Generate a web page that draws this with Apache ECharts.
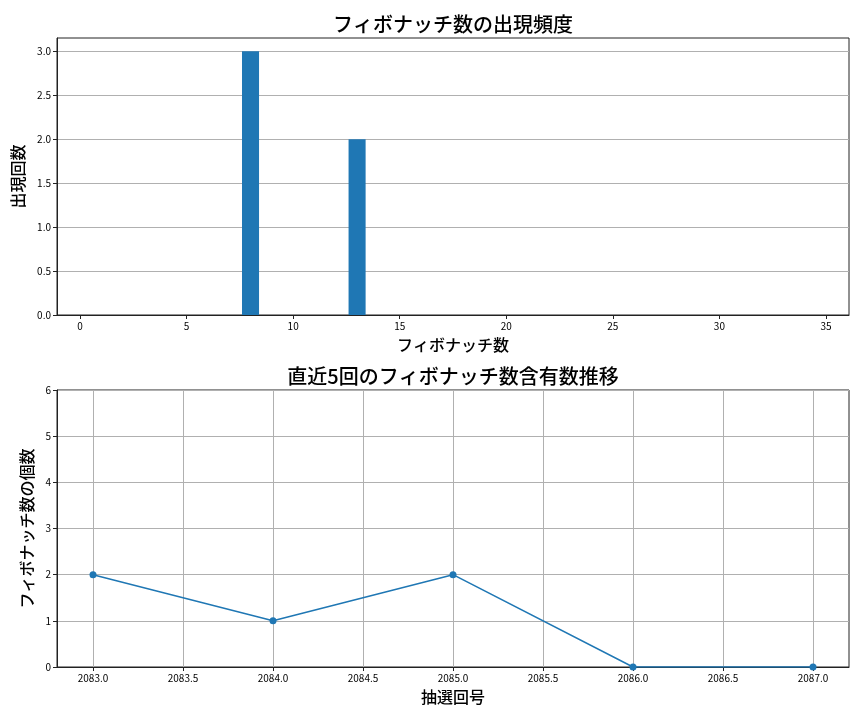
<!DOCTYPE html>
<html><head><meta charset="utf-8">
<script src="https://cdn.jsdelivr.net/npm/echarts@6/dist/echarts.min.js"></script>
<style>html,body{margin:0;padding:0;background:#fff}#c{width:864px;height:720px}</style>
</head><body><div id="c"></div>
<script>
// Top chart: histogram of Fibonacci numbers
const fibNumbers = [8, 13];
const fibCounts = [3, 2];
const barWidthUnits = 0.8;
const topXTicks = [0, 5, 10, 15, 20, 25, 30, 35];
const topYTicks = [0.0, 0.5, 1.0, 1.5, 2.0, 2.5, 3.0];
// Bottom chart: recent 5 draws
const drawNumbers = [2083, 2084, 2085, 2086, 2087];
const fibContainCounts = [2, 1, 2, 0, 0];
const bottomXTicks = [2083.0, 2083.5, 2084.0, 2084.5, 2085.0, 2085.5, 2086.0, 2086.5, 2087.0];
const bottomYTicks = [0, 1, 2, 3, 4, 5, 6];

const FONT = '"Noto Sans CJK JP", "Noto Sans", sans-serif';
const BLUE = '#1f77b4';
const chart = echarts.init(document.getElementById('c'));

const labelStyle = {color: '#000', fontSize: 10, fontFamily: FONT};
const nameStyle = {color: '#000', fontSize: 16, fontWeight: 500, fontFamily: FONT};

chart.setOption({
  animation: false,
  title: [
    {text: 'フィボナッチ数の出現頻度', left: 448, top: 9, textAlign: 'center',
     textStyle: {fontSize: 20, fontWeight: 500, color: '#000', fontFamily: FONT}},
    {text: '直近5回のフィボナッチ数含有数推移', left: 448, top: 361, textAlign: 'center',
     textStyle: {fontSize: 20, fontWeight: 500, color: '#000', fontFamily: FONT}}
  ],
  grid: [
    {left: 57, right: 15, top: 38, height: 277, show: true, borderColor: '#222', borderWidth: 1, containLabel: false},
    {left: 57, right: 15, top: 390, height: 277, show: true, borderColor: '#222', borderWidth: 1, containLabel: false}
  ],
  xAxis: [
    {type: 'value', gridIndex: 0, min: -1.08, max: 36.08,
     name: 'フィボナッチ数', nameLocation: 'middle', nameGap: 22, nameTextStyle: nameStyle,
     axisLine: {show: true, onZero: false, lineStyle: {color: '#222'}},
     axisTick: {show: true, length: 4, lineStyle: {color: '#222'}, customValues: topXTicks},
     axisLabel: {...labelStyle, margin: 6, customValues: topXTicks, formatter: v => String(v)},
     splitLine: {show: false}},
    {type: 'value', gridIndex: 1, min: 2082.8, max: 2087.2,
     name: '抽選回号', nameLocation: 'middle', nameGap: 22, nameTextStyle: nameStyle,
     axisLine: {show: true, onZero: false, lineStyle: {color: '#222'}},
     axisTick: {show: true, length: 4, lineStyle: {color: '#222'}, customValues: bottomXTicks},
     axisLabel: {...labelStyle, margin: 6, customValues: bottomXTicks, formatter: v => v.toFixed(1)},
     splitLine: {show: true, lineStyle: {color: '#b0b0b0', width: 1}}}
  ],
  yAxis: [
    {type: 'value', gridIndex: 0, min: 0, max: 3.15,
     name: '出現回数', nameLocation: 'middle', nameGap: 25, nameTextStyle: nameStyle,
     axisLine: {show: true, onZero: false, lineStyle: {color: '#222'}},
     axisTick: {show: true, length: 4, lineStyle: {color: '#222'}, customValues: topYTicks},
     axisLabel: {...labelStyle, margin: 6, customValues: topYTicks, formatter: v => v.toFixed(1)},
     splitLine: {show: true, lineStyle: {color: '#b0b0b0', width: 1}}},
    {type: 'value', gridIndex: 1, min: 0, max: 6, interval: 1,
     name: 'フィボナッチ数の個数', nameLocation: 'middle', nameGap: 15, nameTextStyle: nameStyle,
     axisLine: {show: true, onZero: false, lineStyle: {color: '#222'}},
     axisTick: {show: true, length: 4, lineStyle: {color: '#222'}},
     axisLabel: {...labelStyle, margin: 6},
     splitLine: {show: true, lineStyle: {color: '#b0b0b0', width: 1}}}
  ],
  series: [
    {type: 'custom', xAxisIndex: 0, yAxisIndex: 0,
     data: fibNumbers.map((x, i) => [x, fibCounts[i]]),
     renderItem: function (params, api) {
       const x = api.value(0), y = api.value(1);
       const p0 = api.coord([x - barWidthUnits / 2, y]);
       const p1 = api.coord([x + barWidthUnits / 2, 0]);
       return {type: 'rect', shape: {x: p0[0], y: p0[1], width: p1[0] - p0[0], height: p1[1] - p0[1]},
               style: {fill: BLUE}};
     }},
    {type: 'line', xAxisIndex: 1, yAxisIndex: 1,
     data: drawNumbers.map((x, i) => [x, fibContainCounts[i]]),
     symbol: 'circle', symbolSize: 7, showAllSymbol: true,
     lineStyle: {color: BLUE, width: 1.5}, itemStyle: {color: BLUE}}
  ]
});
</script></body></html>
